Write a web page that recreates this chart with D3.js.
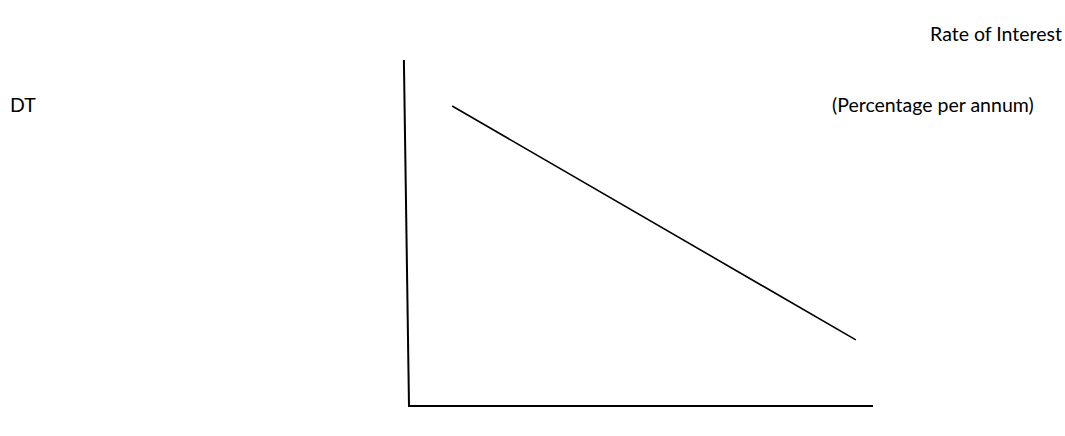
<!DOCTYPE html>
<html>
<head>
<meta charset="utf-8">
<script src="https://cdn.jsdelivr.net/npm/d3@7"></script>
<style>
  html, body { margin: 0; padding: 0; background: #fff; }
  svg { display: block; }
  text { font-family: Lato, "Open Sans", "Noto Sans", sans-serif; fill: #000; }
</style>
</head>
<body>
<div id="chart"></div>
<script>
// Diagram data (abstract units, 0..10 on each axis)
const xDomain = [0, 10];
const yDomain = [0, 10];
const curveX = [0.93, 9.63];
const curveY = [8.67, 1.91];
const yAxisTopX = [-0.11];
const labels = ["Rate of Interest", "(Percentage per annum)", "DT"];

const W = 1065, H = 436;
const svg = d3.select("#chart").append("svg").attr("width", W).attr("height", H);

const x = d3.scaleLinear().domain(xDomain).range([409, 873]);
const y = d3.scaleLinear().domain(yDomain).range([406, 60]);

// vertical axis (slightly slanted, as drawn)
svg.append("line")
  .attr("x1", x(yAxisTopX[0])).attr("y1", y(yDomain[1]))
  .attr("x2", x(0)).attr("y2", y(0))
  .attr("stroke", "#000").attr("stroke-width", 2);

// horizontal axis
svg.append("line")
  .attr("x1", x(0) - 1).attr("y1", y(0))
  .attr("x2", x(xDomain[1])).attr("y2", y(0))
  .attr("stroke", "#000").attr("stroke-width", 2);

// demand line
const pts = curveX.map((d, i) => [d, curveY[i]]);
svg.append("path")
  .datum(pts)
  .attr("fill", "none").attr("stroke", "#000").attr("stroke-width", 1.6)
  .attr("d", d3.line().x(d => x(d[0])).y(d => y(d[1])));

// labels
svg.append("text").attr("x", 1062).attr("y", 41).attr("text-anchor", "end")
  .attr("font-size", 19.5).text(labels[0]);
svg.append("text").attr("x", 832).attr("y", 112)
  .attr("font-size", 19.5).text(labels[1]);
svg.append("text").attr("x", 10).attr("y", 112)
  .attr("font-size", 19.5).text(labels[2]);
</script>
</body>
</html>
